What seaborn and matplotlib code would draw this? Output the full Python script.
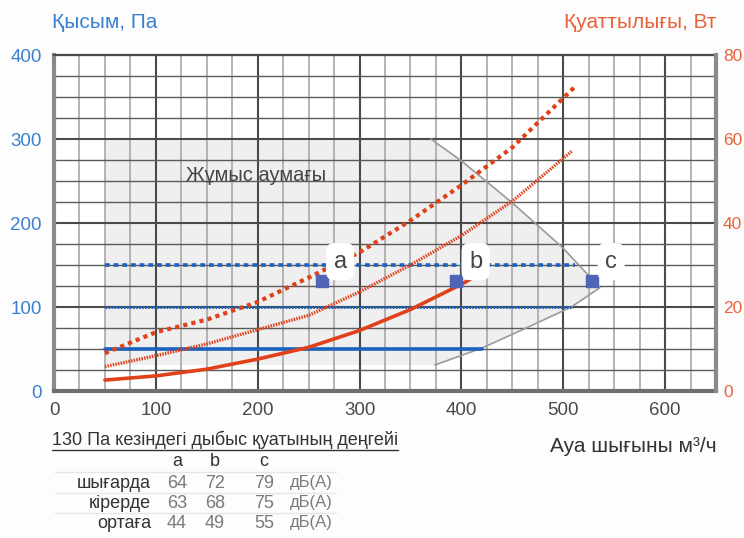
import numpy as np
import pandas as pd
import matplotlib
matplotlib.use("Agg")
import matplotlib.pyplot as plt
from matplotlib.ticker import MultipleLocator
from matplotlib.lines import Line2D
import seaborn as sns

# ---- data -------------------------------------------------------------
# power curves (W) vs airflow (m3/h)
flow_max = [50, 100, 150, 200, 250, 300, 350, 400, 450, 513]
power_max = [9.0, 14.0, 17.0, 21.2, 27.0, 33.0, 40.6, 49.0, 58.0, 72.8]

flow_mid = [50, 100, 150, 200, 250, 300, 350, 400, 450, 509]
power_mid = [5.8, 8.4, 11.2, 14.6, 18.0, 23.6, 30.0, 37.0, 45.2, 57.2]

flow_min = [50, 100, 150, 200, 250, 300, 350, 400, 413]
power_min = [2.6, 3.6, 5.2, 7.6, 10.4, 14.4, 19.4, 25.4, 27.2]

# constant-pressure lines (Pa) and their airflow span
pressure_levels = [150, 100, 50]
pressure_flow_end = [512, 510, 420]
pressure_flow_start = 50

# working area outline (m3/h, Pa)
area_flow = [50, 50, 370, 400, 450, 500, 536, 508, 460, 420, 374]
area_pressure = [31, 300, 300, 274, 224, 170, 123, 100, 73, 51, 31]

# sound measurement points at 130 Pa
point_names = ["a", "b", "c"]
point_flow = [263, 395, 528]
point_pressure = [131, 131, 131]
label_flow = [281, 414, 547]
label_pressure = [154, 154, 154]

# sound power table
table_title = "130 Па кезіндегі дыбыс қуатының деңгейі"
table_rows = ["шығарда", "кірерде", "ортаға"]
table_a = [64, 63, 44]
table_b = [72, 68, 49]
table_c = [79, 75, 55]
table_unit = "дБ(А)"

# ---- style ------------------------------------------------------------
sns.set_theme(style="white")
plt.rcParams["font.family"] = ["Liberation Sans", "DejaVu Sans"]

BLUE_TXT = "#3a7fd0"
ORANGE_TXT = "#e8633a"
RED = "#e0401a"
BLUE = "#1a62bd"
DARK = "#444444"

W, H = 744, 538
fig = plt.figure(figsize=(W / 100, H / 100), dpi=100)
fig.patch.set_facecolor("#fdfdfd")


def fx(px):
    return px / W


def fy(py):
    return 1 - py / H


ax = fig.add_axes([fx(54), fy(391), fx(716) - fx(54), fy(55) - fy(391)])
ax.set_xlim(0, 650)
ax.set_ylim(0, 400)
ax.set_facecolor("white")

ax2 = ax.twinx()
ax2.set_ylim(0, 80)

# grid
ax.set_axisbelow(True)
ax.xaxis.set_major_locator(MultipleLocator(100))
ax.xaxis.set_minor_locator(MultipleLocator(25))
ax.yaxis.set_major_locator(MultipleLocator(100))
ax.yaxis.set_minor_locator(MultipleLocator(25))
ax.grid(False)
ax.xaxis.grid(True, which="major", color="#4a4a4a", lw=1.5)
ax.xaxis.grid(True, which="minor", color="#a8a8a8", lw=1.2)
ax.yaxis.grid(True, which="major", color="#4a4a4a", lw=1.5)
ax.yaxis.grid(True, which="minor", color="#5a5a5a", lw=1.0)

# working area
ax.fill(area_flow, area_pressure, color="#efefef", zorder=0.2, lw=0)
ax.plot(area_flow[2:], area_pressure[2:], color="#9a9a9a", lw=1.2, zorder=0.6)
ax.text(198, 257, "Жұмыс аумағы", fontsize=14.5, color=DARK,
        ha="center", va="center", zorder=0.7)

# constant pressure lines
styles = [(0, (1.3, 1.1)), (0, (0.55, 0.45)), "-"]
widths = [2.6, 2.2, 2.6]
for lvl, end, ls, lw in zip(pressure_levels, pressure_flow_end, styles, widths):
    df = pd.DataFrame({"flow": [pressure_flow_start, end], "p": [lvl, lvl]})
    sns.lineplot(data=df, x="flow", y="p", ax=ax, color=BLUE, lw=lw,
                 linestyle=ls, zorder=2)

# power curves
curves = [
    (flow_max, power_max, (0, (1.0, 1.0)), 3.0),
    (flow_mid, power_mid, (0, (0.45, 0.35)), 2.4),
    (flow_min, power_min, "-", 2.6),
]
for fl, pw, ls, lw in curves:
    df = pd.DataFrame({"flow": fl, "power": pw})
    sns.lineplot(data=df, x="flow", y="power", ax=ax2, color=RED, lw=lw,
                 linestyle=ls, zorder=2)

# measurement points and their labels
ax2.plot(point_flow, point_pressure, "s", color="#5065b5", ms=8.5,
         transform=ax.transData, zorder=4)
for name, lx, ly in zip(point_names, label_flow, label_pressure):
    ax2.text(lx, ly, name, transform=ax.transData, fontsize=17, color=DARK,
             ha="center", va="center", zorder=5,
             bbox=dict(boxstyle="round,pad=0.32,rounding_size=0.35",
                       fc="white", ec="none"))

# axes cosmetics
for a in (ax, ax2):
    a.set_xlabel("")
    a.set_ylabel("")
    for s in a.spines.values():
        s.set_visible(False)

ax.spines["left"].set_visible(True)
ax.spines["left"].set_color("#8a8a8a")
ax.spines["left"].set_linewidth(3)
ax.spines["bottom"].set_visible(True)
ax.spines["bottom"].set_color("#6e6e6e")
ax.spines["bottom"].set_linewidth(3)
ax.spines["top"].set_visible(True)
ax.spines["top"].set_color("#4a4a4a")
ax.spines["top"].set_linewidth(1.6)
ax2.spines["right"].set_visible(True)
ax2.spines["right"].set_color("#8a8a8a")
ax2.spines["right"].set_linewidth(3)

ax.tick_params(axis="both", which="both", length=0)
ax.tick_params(axis="y", labelsize=13.5, labelcolor=BLUE_TXT, pad=9)
ax.tick_params(axis="x", labelsize=13.5, labelcolor="#4a4a4a", pad=8)
ax2.yaxis.set_major_locator(MultipleLocator(20))
ax2.tick_params(axis="y", length=0, labelsize=12.5, labelcolor=ORANGE_TXT, pad=5)

# titles
fig.text(fx(52), fy(22), "Қысым, Па", fontsize=15, color=BLUE_TXT,
         ha="left", va="center")
fig.text(fx(716), fy(22), "Қуаттылығы, Вт", fontsize=15, color=ORANGE_TXT,
         ha="right", va="center")
fig.text(fx(717), fy(447), "Ауа шығыны м³/ч", fontsize=15, color="#333333",
         ha="right", va="center")

# sound power table
t = fig.text(fx(52), fy(440), table_title, fontsize=13, color="#333333",
             ha="left", va="center")
fig.canvas.draw()
bb = t.get_window_extent()
fig.add_artist(Line2D([bb.x0 / W, bb.x1 / W], [(bb.y0 - 1) / H, (bb.y0 - 1) / H],
                      color="#333333", lw=1))

col_x = [177, 215, 264]
for name, cx in zip(point_names, col_x):
    fig.text(fx(cx), fy(462), name, fontsize=13, color="#333333",
             ha="center", va="center")

row_y = [483, 503, 523]
for i, (lab, ry) in enumerate(zip(table_rows, row_y)):
    fig.text(fx(151), fy(ry), lab, fontsize=13, color="#333333",
             ha="right", va="center")
    for vals, cx in zip((table_a, table_b, table_c), col_x):
        fig.text(fx(cx), fy(ry), str(vals[i]), fontsize=13, color="#7a7a7a",
                 ha="center", va="center")
    fig.text(fx(290), fy(ry), table_unit, fontsize=12, color="#7a7a7a",
             ha="left", va="center")

for ly in [472, 493, 513]:
    fig.add_artist(Line2D([fx(55), fx(336)], [fy(ly), fy(ly)],
                          color="#e6e6e6", lw=1))

fig.savefig("out.png", dpi=100, facecolor=fig.get_facecolor())
